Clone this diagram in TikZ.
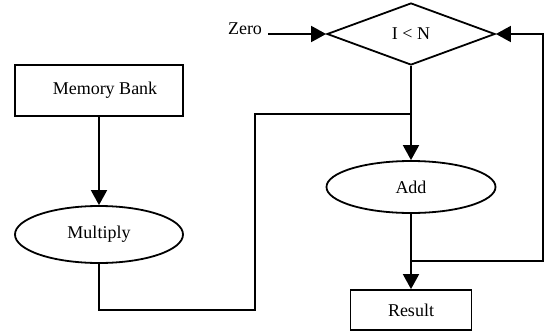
\documentclass[tikz,border=0pt]{standalone}
\usepackage{fontspec}
\setmainfont{Liberation Serif}
\usepackage{tikz}
\usetikzlibrary{shapes.geometric,arrows.meta}

\begin{document}
\begin{tikzpicture}[x=1pt, y=-1pt,
    every node/.style={font=\fontsize{18}{20}\selectfont},
    blk/.style={draw, line width=1.8pt, rectangle, inner sep=0pt},
    oval/.style={draw, line width=1.8pt, ellipse, inner sep=0pt},
    test/.style={draw, line width=1.8pt, diamond, inner sep=0pt},
    wire/.style={line width=1.8pt},
    arr/.style={wire, -{Triangle[length=15pt, width=16pt]}},
]
\useasboundingbox (0,0) rectangle (547,335);

% === Nodes ===
\node[test, minimum width=168pt, minimum height=62pt] (cmp) at (411,34) {I < N};
\node (zero) at (245,29) {Zero};
\coordinate (zin) at (268,34);

\node[blk, minimum width=168pt, minimum height=51pt] (mem) at (99,90.5) {\hspace{12pt}Memory Bank};
\node[oval, minimum width=168pt, minimum height=57pt] (mul) at (99,234.5) {Multiply};
\node[oval, minimum width=169pt, minimum height=52pt] (add) at (411,187) {Add};
\node[blk, minimum width=121pt, minimum height=40pt] (res) at (411,310) {Result};

% === Joints ===
\coordinate (mbot) at (255,310);
\coordinate (j1) at (411,114);
\coordinate (j2) at (411,261);
\coordinate (fb) at (543,261);

% === Connectors ===
\draw[arr] (zin) -- (cmp.west);
\draw[arr] (mem.south) -- (mul.north);
\draw[arr] (cmp.south) -- (add.north);
\draw[wire] (mul.south) |- (mbot) |- (j1);
\draw[arr] (add.south) -- (res.north);
\draw[arr] (j2) -- (fb) |- (cmp.east);

\end{tikzpicture}
\end{document}
